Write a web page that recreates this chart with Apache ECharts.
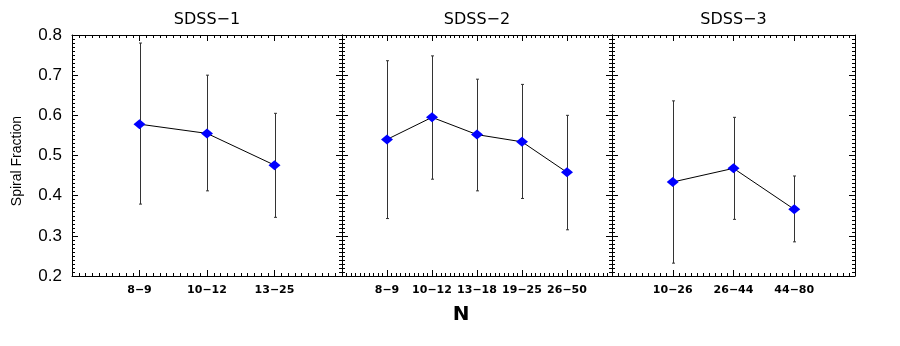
<!DOCTYPE html>
<html>
<head>
<meta charset="utf-8">
<script src="https://cdn.jsdelivr.net/npm/echarts@6/dist/echarts.min.js"></script>
<style>html,body{margin:0;padding:0;background:#fff;}#c{width:900px;height:346px;}</style>
</head>
<body>
<div id="c"></div>
<script>
const titles = ['SDSS\u22121', 'SDSS\u22122', 'SDSS\u22123'];
const yTicks = [0.2, 0.3, 0.4, 0.5, 0.6, 0.7, 0.8];

const cats1 = ['8\u22129', '10\u221212', '13\u221225'];
const frac1 = [0.578, 0.555, 0.476];
const lo1 = [0.379, 0.412, 0.346];
const hi1 = [0.780, 0.700, 0.605];

const cats2 = ['8\u22129', '10\u221212', '13\u221218', '19\u221225', '26\u221250'];
const frac2 = [0.540, 0.595, 0.552, 0.534, 0.458];
const lo2 = [0.343, 0.441, 0.412, 0.393, 0.315];
const hi2 = [0.736, 0.748, 0.690, 0.677, 0.600];

const cats3 = ['10\u221226', '26\u221244', '44\u221280'];
const frac3 = [0.434, 0.468, 0.366];
const lo3 = [0.232, 0.341, 0.285];
const hi3 = [0.636, 0.595, 0.449];

const panels = [
  {cats: cats1, frac: frac1, lo: lo1, hi: hi1, left: 72, width: 270, max: 4},
  {cats: cats2, frac: frac2, lo: lo2, hi: hi2, left: 342, width: 270, max: 6},
  {cats: cats3, frac: frac3, lo: lo3, hi: hi3, left: 612, width: 243, max: 4}
];
const FONT = "'Liberation Sans', Arial, Helvetica, sans-serif";
const WIDE = "'DejaVu Sans', 'Liberation Sans', sans-serif";
const TOP = 35, HEIGHT = 241;

const grids = [], xAxes = [], yAxes = [], series = [], graphics = [];
panels.forEach((p, i) => {
  grids.push({left: p.left, top: TOP, width: p.width, height: HEIGHT, containLabel: false});
  ['bottom', 'top'].forEach(pos => {
    xAxes.push({
      type: 'value', gridIndex: i, position: pos, min: 0, max: p.max, interval: 1,
      axisLine: {show: true, onZero: false, lineStyle: {color: '#000', width: 1}},
      axisTick: {show: true, inside: true, length: 6, lineStyle: {color: '#000'}},
      minorTick: {show: true, splitNumber: 10, length: 3, lineStyle: {color: '#000'}},
      splitLine: {show: false},
      axisLabel: pos === 'bottom' ? {
        show: true, margin: 9, fontFamily: WIDE, fontSize: 11, fontWeight: 'bold', color: '#000',
        formatter: v => (v >= 1 && v <= p.cats.length && Math.abs(v - Math.round(v)) < 1e-6) ? p.cats[Math.round(v) - 1] : ''
      } : {show: false}
    });
  });
  ['left', 'right'].forEach(pos => {
    yAxes.push({
      type: 'value', gridIndex: i, position: pos, min: yTicks[0], max: yTicks[yTicks.length - 1], interval: 0.1,
      axisLine: {show: true, onZero: false, lineStyle: {color: '#000', width: 1}},
      axisTick: {show: true, inside: true, length: 6, lineStyle: {color: '#000'}},
      minorTick: {show: true, splitNumber: 10, length: 3, lineStyle: {color: '#000'}},
      splitLine: {show: false},
      axisLabel: (i === 0 && pos === 'left') ? {
        show: true, margin: 10, fontFamily: FONT, fontSize: 17, color: '#000', padding: [4, 0, 0, 0],
        formatter: v => v.toFixed(1)
      } : {show: false}
    });
  });
  const errData = p.frac.map((f, k) => [k + 1, p.lo[k], p.hi[k]]);
  series.push({
    type: 'custom', xAxisIndex: 2 * i, yAxisIndex: 2 * i, data: errData, z: 2,
    encode: {x: 0, y: [1, 2]},
    renderItem: (params, api) => {
      const x = api.value(0);
      const a = api.coord([x, api.value(1)]);
      const b = api.coord([x, api.value(2)]);
      const cx = Math.round(a[0]) + 0.5;
      const st = {stroke: '#333', lineWidth: 1};
      return {type: 'group', children: [
        {type: 'line', shape: {x1: cx, y1: a[1], x2: cx, y2: b[1]}, style: st},
        {type: 'line', shape: {x1: cx - 1.5, y1: a[1], x2: cx + 1.5, y2: a[1]}, style: st},
        {type: 'line', shape: {x1: cx - 1.5, y1: b[1], x2: cx + 1.5, y2: b[1]}, style: st}
      ]};
    }
  });
  series.push({
    type: 'line', xAxisIndex: 2 * i, yAxisIndex: 2 * i, z: 3,
    data: p.frac.map((f, k) => [k + 1, f]),
    symbol: 'diamond', symbolSize: [12, 10], showSymbol: true,
    lineStyle: {color: '#000', width: 1},
    itemStyle: {color: '#0000ff', borderWidth: 0}
  });
  graphics.push({
    type: 'text', style: {text: titles[i], x: p.left + p.width / 2, y: 20, textAlign: 'center', textVerticalAlign: 'middle',
      font: '16px ' + WIDE, fill: '#000'}
  });
});
graphics.push({
  type: 'text', rotation: Math.PI / 2, x: 17, y: 161,
  style: {text: 'Spiral Fraction', x: 0, y: 0, textAlign: 'center', textVerticalAlign: 'middle', font: '14px ' + FONT, fill: '#000'}
});
graphics.push({
  type: 'text', style: {text: 'N', x: 461, y: 315, textAlign: 'center', textVerticalAlign: 'middle', font: 'bold 20px ' + WIDE, fill: '#000'}
});

const chart = echarts.init(document.getElementById('c'), null, {renderer: 'canvas'});
chart.setOption({
  animation: false,
  backgroundColor: '#fff',
  grid: grids, xAxis: xAxes, yAxis: yAxes, series: series, graphic: graphics
});
</script>
</body>
</html>
